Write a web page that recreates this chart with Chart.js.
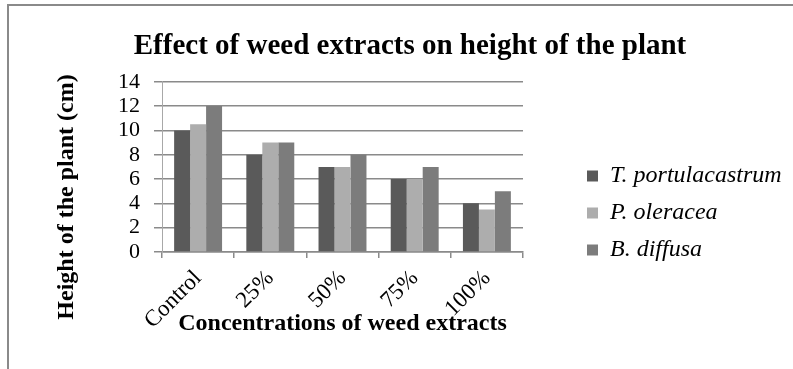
<!DOCTYPE html>
<html>
<head>
<meta charset="utf-8">
<title>Effect of weed extracts on height of the plant</title>
<script src="https://cdn.jsdelivr.net/npm/chart.js@4.4.1/dist/chart.umd.min.js"></script>
<style>
  html, body { margin: 0; padding: 0; background: #fff; }
  #wrap { position: relative; width: 793px; height: 369px; overflow: hidden; }
  #frame {
    position: absolute; left: 7px; top: 4px; width: 820px; height: 400px;
    border-top: 2px solid #8a8a8a; border-left: 2px solid #8a8a8a;
    pointer-events: none;
  }
</style>
</head>
<body>
<div id="wrap">
  <canvas id="chart" width="793" height="369"></canvas>
  <div id="frame"></div>
</div>
<script>
// --- Data ---
const categories = ['Control', '25%', '50%', '75%', '100%'];
const seriesNames = ['T. portulacastrum', 'P. oleracea', 'B. diffusa'];
const portulacastrum = [10, 8, 7, 6, 4];
const oleracea = [10.5, 9, 7, 6, 3.5];
const diffusa = [12, 9, 8, 7, 5];
const yMin = 0, yMax = 14, yStep = 2;

const seriesValues = [portulacastrum, oleracea, diffusa];
const seriesColors = ['#5a5a5a', '#adadad', '#7c7c7c'];
const serif = '"Liberation Serif", "Times New Roman", serif';

// y axis title, centred on the whole plot block like the original
const yTitle = {
  id: 'yTitle',
  afterDraw(chart) {
    const ctx = chart.ctx;
    ctx.save();
    ctx.translate(67, 197);
    ctx.rotate(-Math.PI / 2);
    ctx.font = 'bold 24px ' + serif;
    ctx.fillStyle = '#000';
    ctx.textAlign = 'center';
    ctx.textBaseline = 'middle';
    ctx.fillText('Height of the plant (cm)', 0, 0);
    ctx.restore();
  }
};

// move the legend box away from the plot, as in the original
const legendPlace = {
  id: 'legendPlace',
  afterLayout(chart) {
    const lg = chart.legend;
    lg.left = chart.chartArea.right + 51;
    lg.right = chart.width;
    lg.width = lg.right - lg.left;
    lg.top = 151;
    lg.bottom = chart.height;
    lg.height = lg.bottom - lg.top;
  }
};

new Chart(document.getElementById('chart'), {
  type: 'bar',
  data: {
    labels: categories,
    datasets: seriesNames.map((name, i) => ({
      label: name,
      data: seriesValues[i],
      backgroundColor: seriesColors[i],
      borderWidth: 0,
      barPercentage: 1,
      categoryPercentage: 0.664
    }))
  },
  options: {
    responsive: false,
    animation: false,
    layout: { padding: { left: 27, right: 0, top: 0, bottom: 31 } },
    plugins: {
      title: {
        display: true,
        text: 'Effect of weed extracts on height of the plant',
        color: '#000',
        font: { family: serif, size: 29, weight: 'bold' },
        padding: { top: 29, bottom: 18 }
      },
      legend: {
        position: 'right',
        align: 'start',
        maxWidth: 150,
        labels: {
          color: '#000',
          font: { family: serif, size: 24, style: 'italic' },
          boxWidth: 11,
          boxHeight: 11,
          padding: 13
        }
      },
      tooltip: { enabled: false }
    },
    scales: {
      x: {
        grid: { drawOnChartArea: false, drawTicks: true, tickLength: 6, offset: true, color: '#8a8a8a', lineWidth: 1.5 },
        border: { display: true, color: '#8a8a8a', width: 1.5 },
        ticks: {
          color: '#000',
          font: { family: serif, size: 23 },
          minRotation: 45,
          maxRotation: 45,
          padding: 7
        },
        title: {
          display: true,
          text: 'Concentrations of weed extracts',
          color: '#000',
          font: { family: serif, size: 24, weight: 'bold' },
          padding: { top: 0, bottom: 0 }
        },
        afterFit(scale) { scale.height = 86; }
      },
      y: {
        min: yMin,
        max: yMax,
        ticks: {
          stepSize: yStep,
          autoSkip: false,
          color: '#000',
          font: { family: serif, size: 22 },
          padding: 14
        },
        grid: { color: '#8a8a8a', lineWidth: 1.5, tickLength: 8 },
        border: { display: true, color: '#a8a8a8', width: 1 },
        afterFit(scale) { scale.width = 135; }
      },
      gap: {
        position: 'right',
        display: true,
        ticks: { display: false },
        grid: { display: false },
        border: { display: false },
        afterFit(scale) { scale.width = 120; }
      }
    }
  },
  plugins: [yTitle, legendPlace]
});
</script>
</body>
</html>
